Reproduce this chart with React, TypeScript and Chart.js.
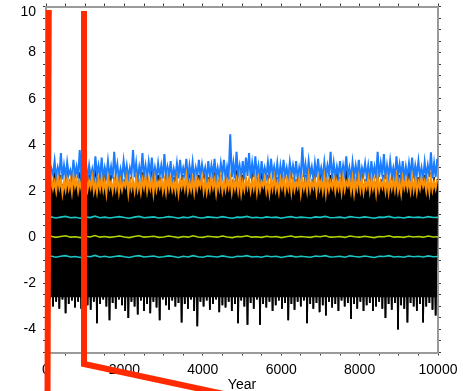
import React, { useEffect, useRef } from 'react';
import { Chart, registerables } from 'chart.js';

Chart.register(...registerables);

// ---- data ----
const X_MIN = 0;
const X_MAX = 10000;
const Y_MIN = -5;
const Y_MAX = 10;

// black noisy series: alternating lows / highs
const blackTroughs = [
  -2.9, -2.7, -3.0, -2.8, -3.1, -2.7, -3.3, -2.9, -2.75, -3.05, -2.8, -3.1, -2.65, -2.95, -3.15, -2.8, -3.73, -2.9, -2.7, -3.0,
  -3.6, -2.85, -3.1, -2.7, -2.95, -3.2, -3.5, -2.8, -3.0, -3.35, -2.75, -3.2, -2.9, -3.3, -2.8, -3.05, -3.6, -2.7, -2.95, -3.15,
  -2.75, -3.0, -2.85, -3.7, -2.9, -3.1, -2.7, -3.2, -3.86, -2.8, -3.0, -2.75, -3.15, -2.9, -2.7, -3.25, -2.95, -3.05, -2.8, -3.2,
  -2.9, -3.73, -2.75, -3.0, -3.8, -2.85, -3.1, -2.7, -3.8, -2.9, -3.05, -2.8, -3.2, -2.95, -2.75, -3.1, -2.85, -3.6, -2.9, -3.15,
  -2.8, -3.0, -2.75, -3.73, -2.9, -3.1, -2.85, -3.25, -2.95, -3.4, -2.8, -3.05, -2.9, -3.2, -2.75, -3.0, -2.85, -3.55, -2.9, -3.1,
  -2.8, -3.2, -2.95, -2.85, -3.2, -3.0, -2.8, -3.1, -3.5, -2.9, -3.15, -2.85, -4.0, -2.95, -3.1, -3.7, -2.85, -3.0, -3.2, -2.9,
  -3.7, -3.0, -2.85, -3.15, -3.4,
];
const blackPeaks = [
  2.6, 2.4, 2.8, 2.5, 2.7, 2.3, 2.9, 2.5, 2.6, 2.4, 2.8, 2.6, 2.5, 2.7, 2.4, 2.9, 2.6, 2.5, 2.8, 2.4,
  2.7, 2.6, 2.3, 2.8, 2.5, 2.9, 2.6, 2.4, 2.7, 2.5, 2.8, 2.6, 2.4, 2.9, 2.5, 2.7, 2.6, 2.3, 2.8, 2.5,
  2.6, 2.9, 2.4, 2.7, 2.5, 2.8, 2.6, 2.4, 2.7, 2.5, 2.9, 2.6, 2.4, 2.8, 2.5, 2.7, 2.3, 2.8, 2.6, 2.5,
  2.9, 2.4, 2.7, 2.6, 2.5, 2.8, 2.4, 2.6, 2.9, 2.5, 2.7, 2.4, 2.8, 2.6, 2.5, 2.7, 2.3, 2.9, 2.6, 2.5,
  2.8, 2.4, 2.7, 2.6, 2.5, 2.8, 2.4, 2.9, 2.6, 2.5, 2.7, 2.4, 2.8, 2.6, 2.5, 2.9, 2.4, 2.7, 2.6, 2.3,
  2.8, 2.5, 2.7, 2.6, 2.4, 2.9, 2.5, 2.7, 2.6, 2.4, 2.8, 2.5, 2.7, 2.6, 2.4, 2.9, 2.5, 2.8, 2.6, 2.4,
  2.7, 2.5, 2.8, 2.6, 2.5,
];

// blue series
const blueTroughs = [
  2.6, 2.5, 2.7, 2.55, 2.65, 2.5, 2.6, 2.7, 2.5, 2.65, 2.55, 2.6, 2.7, 2.5, 2.6, 2.55, 2.7, 2.6, 2.5, 2.65,
  2.6, 2.55, 2.7, 2.5, 2.6, 2.65, 2.55, 2.7, 2.6, 2.5, 2.65, 2.6, 2.55, 2.7, 2.5, 2.6, 2.65, 2.55, 2.6, 2.7,
  2.5, 2.6, 2.55, 2.65, 2.7, 2.5, 2.6, 2.55, 2.65, 2.6, 2.7, 2.5, 2.6, 2.65, 2.55, 2.6, 2.7, 2.5, 2.65, 2.6,
  2.55, 2.7, 2.6, 2.5, 2.65, 2.55, 2.6, 2.7, 2.5, 2.6, 2.65, 2.55, 2.7, 2.6, 2.5, 2.6, 2.65, 2.55, 2.7, 2.6,
  2.5, 2.65, 2.6, 2.55, 2.7, 2.5, 2.6, 2.65, 2.55, 2.6, 2.7, 2.5, 2.6, 2.65, 2.55, 2.7, 2.6, 2.5, 2.65, 2.6,
  2.55, 2.7, 2.6, 2.5, 2.65, 2.55, 2.6, 2.7, 2.5, 2.6, 2.65, 2.55, 2.7, 2.6, 2.5, 2.6, 2.65, 2.55, 2.7, 2.6,
  2.5, 2.65, 2.6, 2.55, 2.6,
];
const bluePeaks = [
  3.1, 2.95, 3.3, 3.0, 3.65, 3.1, 3.25, 2.9, 3.35, 3.05, 3.78, 3.0, 3.2, 3.1, 2.95, 3.5, 3.1, 3.45, 3.0, 3.3,
  3.05, 3.7, 3.15, 2.95, 3.3, 3.1, 3.0, 3.78, 3.2, 3.05, 3.65, 3.1, 3.25, 3.45, 3.0, 3.2, 3.1, 3.6, 3.05, 3.3,
  2.95, 3.2, 3.35, 3.0, 3.4, 3.1, 3.25, 3.0, 3.35, 3.15, 3.0, 3.3, 3.1, 3.4, 3.0, 3.2, 3.35, 3.05, 4.46, 3.2,
  3.7, 3.1, 3.3, 3.45, 3.65, 3.2, 3.5, 3.1, 3.3, 3.0, 3.25, 3.4, 3.05, 3.2, 3.1, 3.35, 3.0, 3.25, 3.1, 3.3,
  3.0, 3.9, 3.15, 3.3, 3.05, 3.2, 3.4, 3.0, 3.25, 3.1, 3.7, 3.2, 3.05, 3.3, 3.1, 3.5, 3.0, 3.25, 3.1, 3.35,
  3.0, 3.2, 3.1, 3.3, 3.05, 3.7, 3.2, 3.6, 3.1, 3.3, 3.0, 3.5, 3.15, 3.3, 3.05, 3.2, 3.45, 3.1, 3.3, 3.0,
  3.25, 3.1, 3.68, 3.2, 3.4,
];

// orange series
const orangeTroughs = [
  2.05, 1.95, 2.1, 2.0, 2.15, 1.9, 2.05, 2.1, 1.95, 2.2, 2.0, 2.1, 1.9, 2.05, 2.15, 2.0, 1.95, 2.1, 2.05, 1.9,
  2.15, 2.0, 2.1, 1.95, 2.05, 2.2, 1.9, 2.1, 2.0, 2.05, 1.95, 2.15, 2.0, 2.1, 1.9, 2.05, 2.15, 2.0, 1.95, 2.1,
  2.05, 2.0, 1.9, 2.15, 2.1, 2.0, 2.05, 1.95, 2.1, 2.2, 2.0, 1.95, 2.05, 2.15, 1.9, 2.1, 2.0, 2.05, 2.15, 1.95,
  2.1, 2.0, 1.9, 2.05, 2.15, 2.0, 2.1, 1.95, 2.05, 2.2, 2.0, 1.9, 2.1, 2.05, 1.95, 2.15, 2.0, 2.1, 1.95, 2.05,
  2.15, 1.9, 2.1, 2.0, 2.05, 2.15, 1.95, 2.1, 2.0, 1.9, 2.05, 2.15, 2.0, 2.1, 1.95, 2.05, 2.2, 2.0, 1.9, 2.1,
  2.05, 1.95, 2.15, 2.0, 2.1, 1.9, 2.05, 2.15, 2.0, 1.95, 2.1, 2.05, 2.0, 1.9, 2.15, 2.1, 2.0, 2.05, 1.95, 2.1,
  2.2, 2.0, 1.95, 2.05, 2.1,
];
const orangePeaks = [
  2.45, 2.55, 2.4, 2.6, 2.5, 2.4, 2.55, 2.45, 2.65, 2.5, 2.4, 2.55, 2.5, 2.45, 2.6, 2.4, 2.5, 2.55, 2.45, 2.6,
  2.4, 2.5, 2.55, 2.45, 2.4, 2.6, 2.5, 2.45, 2.55, 2.4, 2.5, 2.6, 2.45, 2.5, 2.55, 2.4, 2.5, 2.45, 2.6, 2.5,
  2.4, 2.55, 2.45, 2.5, 2.65, 2.4, 2.5, 2.55, 2.45, 2.6, 2.5, 2.4, 2.55, 2.5, 2.45, 2.6, 2.4, 2.5, 2.55, 2.45,
  2.5, 2.6, 2.4, 2.55, 2.5, 2.45, 2.6, 2.5, 2.4, 2.55, 2.45, 2.5, 2.6, 2.4, 2.5, 2.55, 2.45, 2.6, 2.5, 2.4,
  2.55, 2.5, 2.45, 2.65, 2.4, 2.5, 2.55, 2.45, 2.6, 2.5, 2.4, 2.55, 2.45, 2.5, 2.6, 2.4, 2.5, 2.55, 2.45, 2.6,
  2.5, 2.4, 2.55, 2.5, 2.45, 2.6, 2.4, 2.5, 2.55, 2.45, 2.5, 2.6, 2.4, 2.55, 2.5, 2.45, 2.6, 2.5, 2.4, 2.55,
  2.45, 2.5, 2.6, 2.4, 2.5,
];

// thin lines
const cyanUpper = [
  0.85, 0.88, 0.83, 0.87, 0.9, 0.84, 0.86, 0.82, 0.88, 0.85, 0.91, 0.84, 0.87, 0.83, 0.86, 0.89, 0.85, 0.82, 0.87, 0.9,
  0.84, 0.86, 0.88, 0.83, 0.85, 0.89, 0.86, 0.82, 0.87, 0.84, 0.9, 0.85, 0.83, 0.88, 0.86, 0.84, 0.89, 0.85, 0.82, 0.87,
  0.86, 0.9, 0.84, 0.86, 0.83, 0.88, 0.85, 0.87, 0.82, 0.86, 0.89, 0.84, 0.87, 0.85, 0.83, 0.88, 0.86, 0.9, 0.84, 0.85,
  0.87, 0.83, 0.89, 0.86, 0.84, 0.88, 0.85, 0.82, 0.87, 0.86, 0.9, 0.84, 0.86, 0.83, 0.88, 0.85, 0.87, 0.84, 0.89, 0.85,
  0.86,
];
const yellowMiddle = [
  0.01, 0.04, -0.01, 0.03, 0.06, 0.0, 0.02, -0.02, 0.04, 0.01, 0.07, 0.0, 0.03, -0.01, 0.02, 0.05, 0.01, -0.02, 0.03, 0.06,
  0.0, 0.02, 0.04, -0.01, 0.01, 0.05, 0.02, -0.02, 0.03, 0.0, 0.06, 0.01, -0.01, 0.04, 0.02, 0.0, 0.05, 0.01, -0.02, 0.03,
  0.02, 0.06, 0.0, 0.02, -0.01, 0.04, 0.01, 0.03, -0.02, 0.02, 0.05, 0.0, 0.03, 0.01, -0.01, 0.04, 0.02, 0.06, 0.0, 0.01,
  0.03, -0.01, 0.05, 0.02, 0.0, 0.04, 0.01, -0.02, 0.03, 0.02, 0.06, 0.0, 0.02, -0.01, 0.04, 0.01, 0.03, 0.0, 0.05, 0.01,
  0.02,
];
const cyanLower = [
  -0.85, -0.82, -0.87, -0.83, -0.8, -0.86, -0.84, -0.88, -0.82, -0.85, -0.79, -0.86, -0.83, -0.87, -0.84, -0.81, -0.85, -0.88, -0.83, -0.8,
  -0.86, -0.84, -0.82, -0.87, -0.85, -0.81, -0.84, -0.88, -0.83, -0.86, -0.8, -0.85, -0.87, -0.82, -0.84, -0.86, -0.81, -0.85, -0.88, -0.83,
  -0.84, -0.8, -0.86, -0.84, -0.87, -0.82, -0.85, -0.83, -0.88, -0.84, -0.81, -0.86, -0.83, -0.85, -0.87, -0.82, -0.84, -0.8, -0.86, -0.85,
  -0.83, -0.87, -0.81, -0.84, -0.86, -0.82, -0.85, -0.88, -0.83, -0.84, -0.8, -0.86, -0.84, -0.87, -0.82, -0.85, -0.83, -0.86, -0.81, -0.85,
  -0.84,
];

// red overlay lines (drawn beyond the plot area)
const redLineAX = [70, 38];
const redLineAY = [9.85, -7.3];
const redLineBX = [970, 970, 4950];
const redLineBY = [9.8, -5.5, -6.95];

// the densely over-plotted core of the black series (everything between is solid black)
const BLACK_CORE_LOW = -2.6;
const BLACK_CORE_HIGH = 2.3;

// ---- helpers ----
function zigzag(troughs: number[], peaks: number[]) {
  const n = Math.min(troughs.length, peaks.length);
  const step = (X_MAX - X_MIN) / n;
  const pts: { x: number; y: number }[] = [];
  for (let i = 0; i < n; i++) {
    pts.push({ x: X_MIN + (i + 0.25) * step, y: troughs[i] });
    pts.push({ x: X_MIN + (i + 0.75) * step, y: peaks[i] });
  }
  return pts;
}
function even(values: number[]) {
  const step = (X_MAX - X_MIN) / (values.length - 1);
  return values.map((v, i) => ({ x: X_MIN + i * step, y: v }));
}
function pairs(xs: number[], ys: number[]) {
  return xs.map((x, i) => ({ x, y: ys[i] }));
}

const FONT = "'Liberation Sans', Arial, Helvetica, sans-serif";
const AXIS_GREY = '#9a9a9a';
const TICK_COL = '#3a3a3a';

function fixSize(size: { width?: number; height?: number }) {
  return (s: any) => {
    if (size.width !== undefined) s.width = size.width;
    if (size.height !== undefined) s.height = size.height;
    s.paddingTop = 0;
    s.paddingBottom = 0;
    s.paddingLeft = 0;
    s.paddingRight = 0;
  };
}

export default function App() {
  const ref = useRef<HTMLCanvasElement | null>(null);

  useEffect(() => {
    if (!ref.current) return;
    const base = { pointRadius: 0, pointHoverRadius: 0, tension: 0, fill: false };
    const blackData = zigzag(blackTroughs, blackPeaks);
    const chart = new Chart(ref.current, {
      type: 'line',
      data: {
        datasets: [
          { ...base, data: pairs(redLineAX, redLineAY), borderColor: '#ff2a00', borderWidth: 6, clip: false, order: 0, borderJoinStyle: 'miter' },
          { ...base, data: pairs(redLineBX, redLineBY), borderColor: '#ff2a00', borderWidth: 6, clip: false, order: 0, borderJoinStyle: 'miter' },
          { ...base, data: even(yellowMiddle), borderColor: '#b4d200', borderWidth: 1.6, order: 1 },
          { ...base, data: even(cyanUpper), borderColor: '#19c6c6', borderWidth: 1.6, order: 2 },
          { ...base, data: even(cyanLower), borderColor: '#19c6c6', borderWidth: 1.6, order: 2 },
          { ...base, data: zigzag(orangeTroughs, orangePeaks), borderColor: '#ff9100', borderWidth: 2, order: 3 },
          { ...base, data: zigzag(blueTroughs, bluePeaks), borderColor: '#1a7cff', borderWidth: 2, order: 4 },
          {
            ...base, data: blackData, borderColor: '#000000', borderWidth: 1.7, order: 5,
            fill: { value: BLACK_CORE_LOW }, backgroundColor: '#000000',
          },
          {
            ...base, data: blackData, borderColor: '#000000', borderWidth: 1.7, order: 6,
            fill: { value: BLACK_CORE_HIGH }, backgroundColor: '#000000',
          },
        ] as any,
      },
      options: {
        animation: false,
        responsive: false,
        devicePixelRatio: 1,
        layout: { padding: 0, autoPadding: false },
        plugins: { legend: { display: false }, tooltip: { enabled: false }, title: { display: false } },
        events: [],
        scales: {
          x: {
            type: 'linear',
            position: 'bottom',
            min: X_MIN,
            max: X_MAX,
            ticks: {
              stepSize: 500,
              autoSkip: false,
              maxRotation: 0,
              minRotation: 0,
              padding: 6,
              color: '#000',
              font: { family: FONT, size: 14 },
              callback: (v: any) => (Number(v) % 2000 === 0 ? String(v) : ''),
            },
            grid: { drawOnChartArea: false, drawTicks: true, tickLength: 3, color: TICK_COL, lineWidth: 1 },
            border: { display: true, color: AXIS_GREY, width: 2 },
            title: { display: true, text: 'Year', color: '#000', font: { family: FONT, size: 14 }, padding: { top: 0, bottom: -3 } },
            afterFit: fixSize({ height: 38.5 }),
          },
          x2: {
            type: 'linear',
            position: 'top',
            min: X_MIN,
            max: X_MAX,
            ticks: { display: false, stepSize: 500, autoSkip: false },
            grid: { drawOnChartArea: false, drawTicks: true, tickLength: 3, color: TICK_COL, lineWidth: 1 },
            border: { display: true, color: AXIS_GREY, width: 2 },
            afterFit: fixSize({ height: 6.5 }),
          },
          y: {
            type: 'linear',
            position: 'left',
            min: Y_MIN,
            max: Y_MAX,
            ticks: {
              stepSize: 0.5,
              autoSkip: false,
              padding: 7,
              color: '#000',
              // the top label sits a little below its tick so that it stays inside the figure
              font: (ctx: any) =>
                ctx.tick && ctx.tick.value === Y_MAX
                  ? { family: FONT, size: 14, lineHeight: '11px' }
                  : { family: FONT, size: 14 },
              callback: (v: any) => {
                const n = Number(v);
                if (n % 2 !== 0) return '';
                return n === Y_MAX ? ['', String(n)] : String(n);
              },
            },
            grid: { drawOnChartArea: false, drawTicks: true, tickLength: 3, color: TICK_COL, lineWidth: 1 },
            border: { display: true, color: AXIS_GREY, width: 2 },
            afterFit: fixSize({ width: 46 }),
          },
          y2: {
            type: 'linear',
            position: 'right',
            min: Y_MIN,
            max: Y_MAX,
            ticks: { display: false, stepSize: 0.5, autoSkip: false },
            grid: { drawOnChartArea: false, drawTicks: true, tickLength: 3, color: TICK_COL, lineWidth: 1 },
            border: { display: true, color: AXIS_GREY, width: 2 },
            afterFit: fixSize({ width: 25 }),
          },
        },
      } as any,
    });
    return () => chart.destroy();
  }, []);

  return (
    <div style={{ position: 'absolute', left: 0, top: 0, width: 463, height: 391, background: '#fff' }}>
      <canvas ref={ref} width={463} height={391} style={{ width: 463, height: 391, display: 'block' }} />
    </div>
  );
}
